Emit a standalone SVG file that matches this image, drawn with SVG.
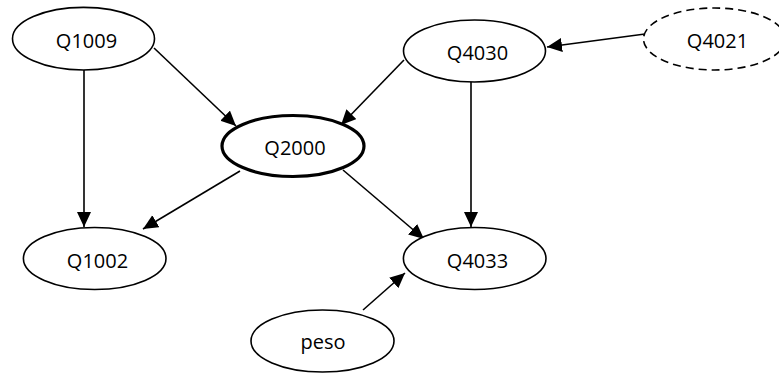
<svg xmlns="http://www.w3.org/2000/svg" width="779" height="374" viewBox="0 0 779 374">
  <style>
    .node { fill: #ffffff; stroke: #000000; stroke-width: 1.6; }
    .bold { stroke-width: 3.2; }
    .dashed { stroke-dasharray: 8 5; }
    .label { font-family: "Open Sans", "Noto Sans", sans-serif; font-size: 20px; fill: #000000; text-anchor: middle; }
    .edge { stroke: #000000; stroke-width: 1.6; fill: none; marker-end: url(#arrow); }
  </style>
  <defs>
    <marker id="arrow" markerUnits="userSpaceOnUse" markerWidth="16" markerHeight="15" refX="15" refY="7" orient="auto">
      <path d="M0,0 L15,7 L0,14 z" fill="#000000"/>
    </marker>
  </defs>
  <rect width="779" height="374" fill="#ffffff"/>

  <g id="edges">
    <line class="edge" x1="154" y1="48" x2="236" y2="126"/>
    <line class="edge" x1="404" y1="60" x2="341" y2="125"/>
    <line class="edge" x1="645" y1="34" x2="547" y2="47"/>
    <line class="edge" x1="84" y1="70" x2="84" y2="227"/>
    <line class="edge" x1="471" y1="82" x2="471" y2="227"/>
    <line class="edge" x1="240" y1="171" x2="143" y2="229"/>
    <line class="edge" x1="343" y1="170" x2="424" y2="239"/>
    <line class="edge" x1="363" y1="310" x2="405" y2="273"/>
  </g>

  <g id="Q1009">
    <ellipse class="node" cx="83.5" cy="38.7" rx="71" ry="31.3"/>
    <text class="label" x="86.5" y="47.7">Q1009</text>
  </g>
  <g id="Q2000">
    <ellipse class="node bold" cx="293" cy="146" rx="71" ry="30.5"/>
    <text class="label" x="295" y="155">Q2000</text>
  </g>
  <g id="Q4030">
    <ellipse class="node" cx="474.5" cy="51" rx="71" ry="31"/>
    <text class="label" x="477.5" y="60">Q4030</text>
  </g>
  <g id="Q4021">
    <ellipse class="node dashed" cx="714.5" cy="39" rx="71" ry="31"/>
    <text class="label" x="717.5" y="48">Q4021</text>
  </g>
  <g id="Q1002">
    <ellipse class="node" cx="94.7" cy="258.5" rx="71.3" ry="31"/>
    <text class="label" x="97.5" y="267.5">Q1002</text>
  </g>
  <g id="Q4033">
    <ellipse class="node" cx="474.7" cy="258.5" rx="71.3" ry="31"/>
    <text class="label" x="477.5" y="267.5">Q4033</text>
  </g>
  <g id="peso">
    <ellipse class="node" cx="322.5" cy="341" rx="71.5" ry="31"/>
    <text class="label" x="323" y="349">peso</text>
  </g>
</svg>
